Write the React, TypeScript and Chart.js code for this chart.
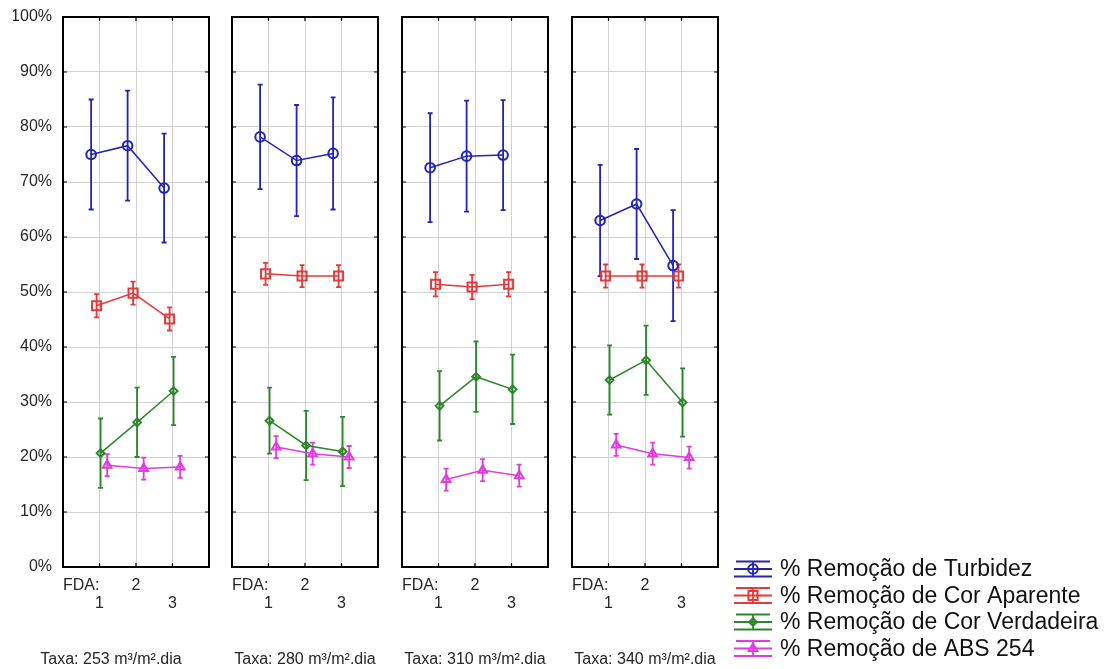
import React, { useEffect, useRef } from "react";
import { Chart, registerables } from "chart.js";

Chart.register(...registerables);

const FONT = "'Liberation Sans', Arial, Helvetica, sans-serif";

// ---------- data ----------
const fdaLevels = [1, 2, 3];
const xTickValues = [0.5, 1, 2, 3];
const xTickLabels: (string | string[])[] = ["FDA:", ["", "1"], "2", ["", "3"]];
const panelTitles = [
  "Taxa: 253 m³/m².dia",
  "Taxa: 280 m³/m².dia",
  "Taxa: 310 m³/m².dia",
  "Taxa: 340 m³/m².dia",
];
const seriesNames = [
  "% Remoção de Turbidez",
  "% Remoção de Cor Aparente",
  "% Remoção de Cor Verdadeira",
  "% Remoção de ABS 254",
];

const turbidez = [
  [75.0, 76.6, 68.9],
  [78.2, 73.9, 75.2],
  [72.6, 74.7, 74.9],
  [63.0, 66.0, 54.8],
];
const turbidezErr = [
  [10.0, 10.0, 9.9],
  [9.5, 10.1, 10.2],
  [9.9, 10.1, 10.0],
  [10.1, 10.0, 10.1],
];
const corAparente = [
  [47.5, 49.8, 45.1],
  [53.3, 52.9, 52.9],
  [51.4, 50.9, 51.4],
  [52.9, 52.9, 52.9],
];
const corAparenteErr = [
  [2.1, 2.1, 2.1],
  [2.0, 2.0, 2.0],
  [2.2, 2.2, 2.2],
  [2.1, 2.1, 2.1],
];
const corVerdadeira = [
  [20.7, 26.3, 32.0],
  [26.6, 22.1, 21.0],
  [29.3, 34.6, 32.3],
  [34.0, 37.6, 29.9],
];
const corVerdadeiraErr = [
  [6.3, 6.3, 6.2],
  [6.0, 6.3, 6.3],
  [6.3, 6.4, 6.3],
  [6.3, 6.3, 6.2],
];
const abs254 = [
  [18.5, 17.9, 18.2],
  [21.8, 20.6, 20.0],
  [15.9, 17.6, 16.6],
  [22.2, 20.6, 19.9],
];
const abs254Err = [
  [2.0, 2.0, 2.0],
  [2.0, 2.0, 2.0],
  [2.0, 2.0, 2.0],
  [2.0, 2.0, 2.0],
];

const seriesValues = [turbidez, corAparente, corVerdadeira, abs254];
const seriesErrors = [turbidezErr, corAparenteErr, corVerdadeiraErr, abs254Err];

// ---------- styles / layout ----------
const seriesStyles = [
  { color: "#2424b4", point: "circle", radius: 4.8, offset: -0.23 },
  { color: "#e23b3b", point: "rect", radius: 6.4, offset: -0.08 },
  { color: "#2b872b", point: "rectRot", radius: 3.9, offset: 0.03 },
  { color: "#e03ae0", point: "triangle", radius: 5, offset: 0.21 },
];

const W = 1115;
const H = 669;
const PANEL_LEFT = [63, 232, 402, 572];
const PANEL_W = 146;
const PLOT_TOP = 17;
const Y_AXIS_W = 50;
const X_AXIS_H = 84;
const TEXT_COLOR = "#262626";
const GRID_COLOR = "#d2d2d2";

function drawMarker(ctx: CanvasRenderingContext2D, style: string, x: number, y: number, r: number) {
  ctx.beginPath();
  if (style === "circle") {
    ctx.arc(x, y, r, 0, Math.PI * 2);
  } else if (style === "rect") {
    const s = r * Math.SQRT1_2;
    ctx.rect(x - s, y - s, 2 * s, 2 * s);
  } else if (style === "rectRot") {
    ctx.moveTo(x, y - r);
    ctx.lineTo(x + r, y);
    ctx.lineTo(x, y + r);
    ctx.lineTo(x - r, y);
    ctx.closePath();
  } else {
    const side = (r * 3) / Math.sqrt(3);
    const h = (side * Math.sqrt(3)) / 2;
    ctx.moveTo(x, y - (2 * h) / 3);
    ctx.lineTo(x + side / 2, y + h / 3);
    ctx.lineTo(x - side / 2, y + h / 3);
    ctx.closePath();
  }
  ctx.stroke();
}

const errorBarPlugin = {
  id: "errorBars",
  beforeDatasetsDraw(chart: any) {
    const { ctx } = chart;
    const xs = chart.scales.x;
    const ys = chart.scales.y;
    chart.data.datasets.forEach((ds: any) => {
      ctx.save();
      ctx.strokeStyle = ds.borderColor;
      ctx.lineWidth = 1.8;
      ds.data.forEach((pt: any, j: number) => {
        const e = ds.errors[j];
        const px = xs.getPixelForValue(pt.x);
        const yt = ys.getPixelForValue(pt.y + e);
        const yb = ys.getPixelForValue(pt.y - e);
        ctx.beginPath();
        ctx.moveTo(px, yt);
        ctx.lineTo(px, yb);
        ctx.moveTo(px - 2.5, yt);
        ctx.lineTo(px + 2.5, yt);
        ctx.moveTo(px - 2.5, yb);
        ctx.lineTo(px + 2.5, yb);
        ctx.stroke();
      });
      ctx.restore();
    });
  },
};

const framePlugin = {
  id: "frame",
  afterDatasetsDraw(chart: any) {
    const { ctx, chartArea: a } = chart;
    const xs = chart.scales.x;
    const ys = chart.scales.y;
    ctx.save();
    ctx.strokeStyle = "#000";
    ctx.lineWidth = 1.2;
    ctx.beginPath();
    ys.ticks.forEach((t: any) => {
      if (t.value <= 0 || t.value >= 100) return;
      const py = ys.getPixelForValue(t.value);
      ctx.moveTo(a.left, py);
      ctx.lineTo(a.left + 4, py);
      ctx.moveTo(a.right, py);
      ctx.lineTo(a.right - 4, py);
    });
    fdaLevels.forEach((v) => {
      const px = xs.getPixelForValue(v);
      ctx.moveTo(px, a.top);
      ctx.lineTo(px, a.top + 4);
      ctx.moveTo(px, a.bottom);
      ctx.lineTo(px, a.bottom - 4);
    });
    ctx.stroke();
    ctx.lineWidth = 2;
    ctx.strokeRect(a.left, a.top, a.right - a.left, a.bottom - a.top);
    ctx.restore();
  },
};

const LEGEND_X = 753;
const LEGEND_Y0 = 569;
const LEGEND_DY = 26.5;

const legendPlugin = {
  id: "customLegend",
  afterDraw(chart: any) {
    const { ctx } = chart;
    ctx.save();
    seriesNames.forEach((name, k) => {
      const st = seriesStyles[k];
      const cy = LEGEND_Y0 + k * LEGEND_DY;
      ctx.strokeStyle = st.color;
      ctx.lineWidth = 1.8;
      ctx.beginPath();
      ctx.moveTo(LEGEND_X - 17, cy - 7.5);
      ctx.lineTo(LEGEND_X + 17, cy - 7.5);
      ctx.moveTo(LEGEND_X - 19, cy);
      ctx.lineTo(LEGEND_X + 19, cy);
      ctx.moveTo(LEGEND_X - 19, cy + 7.5);
      ctx.lineTo(LEGEND_X + 19, cy + 7.5);
      ctx.moveTo(LEGEND_X, cy - 7.5);
      ctx.lineTo(LEGEND_X, cy + 7.5);
      ctx.stroke();
      ctx.lineWidth = 2;
      drawMarker(ctx, st.point, LEGEND_X, cy, st.radius);
      ctx.fillStyle = "#111";
      ctx.font = `23px ${FONT}`;
      ctx.textAlign = "left";
      ctx.textBaseline = "middle";
      ctx.fillText(name, 780, cy + 1);
    });
    ctx.restore();
  },
};

function makeConfig(p: number): any {
  const left = PANEL_LEFT[p];
  const datasets = seriesValues.map((vals, k) => {
    const st = seriesStyles[k];
    return {
      label: seriesNames[k],
      data: fdaLevels.map((lv, j) => ({ x: lv + st.offset, y: vals[p][j] })),
      errors: seriesErrors[k][p],
      borderColor: st.color,
      backgroundColor: "rgba(0,0,0,0)",
      borderWidth: 1.5,
      pointStyle: st.point,
      pointRadius: st.radius,
      pointBorderWidth: 2,
      pointBackgroundColor: "rgba(0,0,0,0)",
      pointBorderColor: st.color,
      tension: 0,
      fill: false,
    };
  });
  return {
    type: "line",
    data: { datasets },
    options: {
      animation: false,
      responsive: false,
      devicePixelRatio: 1,
      events: [],
      layout: {
        padding: {
          left: p === 0 ? left - Y_AXIS_W : left,
          right: W - (left + PANEL_W),
          top: PLOT_TOP,
          bottom: 0,
        },
      },
      plugins: {
        legend: { display: false },
        tooltip: { enabled: false },
        title: {
          display: true,
          position: "bottom",
          text: panelTitles[p],
          color: TEXT_COLOR,
          font: { family: FONT, size: 16, weight: "normal", lineHeight: 1.125 },
          padding: 0,
        },
      },
      scales: {
        x: {
          type: "linear",
          min: 0,
          max: 4,
          afterBuildTicks: (scale: any) => {
            scale.ticks = xTickValues.map((v) => ({ value: v }));
          },
          afterFit: (scale: any) => {
            scale.height = X_AXIS_H;
            scale.paddingLeft = 0;
            scale.paddingRight = 0;
          },
          grid: {
            drawTicks: false,
            lineWidth: 1,
            color: (c: any) =>
              c.tick && Number.isInteger(c.tick.value) ? GRID_COLOR : "rgba(0,0,0,0)",
          },
          border: { display: false },
          ticks: {
            autoSkip: false,
            maxRotation: 0,
            minRotation: 0,
            padding: 10,
            color: TEXT_COLOR,
            font: { family: FONT, size: 16, lineHeight: 1.125 },
            callback: (v: number) => {
              const i = xTickValues.indexOf(v);
              return i >= 0 ? xTickLabels[i] : "";
            },
          },
        },
        y: {
          min: 0,
          max: 100,
          afterFit: (scale: any) => {
            scale.width = p === 0 ? Y_AXIS_W : 0;
            scale.paddingTop = 0;
            scale.paddingBottom = 0;
          },
          grid: {
            drawTicks: false,
            lineWidth: 1,
            color: (c: any) =>
              c.tick && (c.tick.value === 0 || c.tick.value === 100) ? "rgba(0,0,0,0)" : GRID_COLOR,
          },
          border: { display: false },
          ticks: {
            display: p === 0,
            stepSize: 10,
            padding: 11,
            color: TEXT_COLOR,
            font: { family: FONT, size: 16, lineHeight: 1.125 },
            callback: (v: number) => `${v}%`,
          },
        },
      },
    },
    plugins: [errorBarPlugin, framePlugin, ...(p === 3 ? [legendPlugin] : [])],
  };
}

export default function App() {
  const canvases = useRef<(HTMLCanvasElement | null)[]>([]);
  useEffect(() => {
    const charts = PANEL_LEFT.map((_, p) => new Chart(canvases.current[p] as HTMLCanvasElement, makeConfig(p)));
    return () => charts.forEach((c) => c.destroy());
  }, []);
  return (
    <div style={{ position: "fixed", left: 0, top: 0, width: W, height: H, background: "#fff" }}>
      {PANEL_LEFT.map((_, p) => (
        <canvas
          key={p}
          ref={(el) => {
            canvases.current[p] = el;
          }}
          width={W}
          height={H}
          style={{ position: "absolute", left: 0, top: 0 }}
        />
      ))}
    </div>
  );
}
